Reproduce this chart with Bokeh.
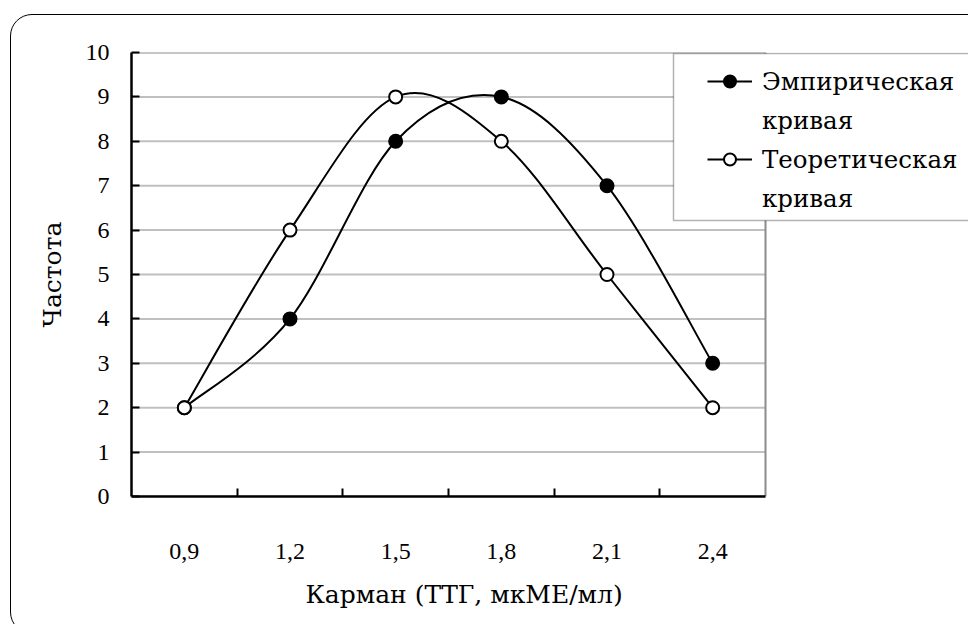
from bokeh.plotting import figure
from bokeh.models import (FixedTicker, BoxAnnotation, Legend, LegendItem, Range1d,
                          InlineStyleSheet, Title)
from bokeh.embed import file_html
from bokeh.resources import INLINE

categories = ["0,9", "1,2", "1,5", "1,8", "2,1", "2,4"]
empirical = [2, 4, 8, 9, 7, 3]
theoretical = [2, 6, 9, 8, 5, 2]
y_ticks = [0, 1, 2, 3, 4, 5, 6, 7, 8, 9, 10]
series_names = ["Эмпирическая\nкривая", "Теоретическая\nкривая"]
x_title = "Карман (ТТГ, мкМЕ/мл)"
y_title = "Частота"

FONT = "Liberation Serif"
FONT_CYR = "DejaVu Serif"

# layout (pixels)
W, H = 968, 624
AREA_L, AREA_R, AREA_T, AREA_B = 131, 765, 52, 497
n_cat = len(categories)
xs = [i + 0.5 for i in range(n_cat)]
x_end = n_cat * (W - AREA_L) / (AREA_R - AREA_L)


def bezier_segments(xv, yv):
    n = len(xv)
    out = dict(x0=[], y0=[], x1=[], y1=[], cx0=[], cy0=[], cx1=[], cy1=[])
    for i in range(n - 1):
        pm = max(i - 1, 0)
        pp = min(i + 2, n - 1)
        out["x0"].append(xv[i]); out["y0"].append(yv[i])
        out["x1"].append(xv[i + 1]); out["y1"].append(yv[i + 1])
        out["cx0"].append(xv[i] + (xv[i + 1] - xv[pm]) / 6)
        out["cy0"].append(yv[i] + (yv[i + 1] - yv[pm]) / 6)
        out["cx1"].append(xv[i + 1] - (xv[pp] - xv[i]) / 6)
        out["cy1"].append(yv[i + 1] - (yv[pp] - yv[i]) / 6)
    return out


p = figure(width=W, height=H, x_range=Range1d(0, x_end), y_range=Range1d(0, y_ticks[-1]),
           output_backend="svg", toolbar_location=None,
           min_border_left=AREA_L, min_border_right=0, min_border_top=AREA_T,
           min_border_bottom=H - AREA_B)
p.background_fill_color = "white"
p.border_fill_color = "white"
p.outline_line_color = None

# outer rounded chart border (CSS, drawn around the canvas content)
p.stylesheets = [InlineStyleSheet(css="""
:host { position: relative; overflow: hidden; }
:host::after { content: ""; position: absolute; left: 10px; top: 14px;
  width: 980px; height: 620px; border: 1.5px solid #000; border-radius: 22px;
  pointer-events: none; box-sizing: border-box; }
""")]

# axes
p.xaxis.bounds = (0, n_cat)
p.xaxis.ticker = FixedTicker(ticks=xs, minor_ticks=list(range(1, n_cat)))
p.xaxis.major_label_overrides = {x: c for x, c in zip(xs, categories)}
p.xaxis.major_tick_line_color = None
p.xaxis.minor_tick_in = 8
p.xaxis.minor_tick_out = 0
p.xaxis.minor_tick_line_color = "black"
p.xaxis.minor_tick_line_width = 2
p.xaxis.axis_line_width = 2.5
p.xaxis.axis_line_color = "black"
p.xaxis.major_label_standoff = 41

p.yaxis.bounds = (0, y_ticks[-1])
p.yaxis.ticker = FixedTicker(ticks=y_ticks)
p.yaxis.major_tick_in = 8
p.yaxis.major_tick_out = 0
p.yaxis.major_tick_line_color = "black"
p.yaxis.major_tick_line_width = 2
p.yaxis.minor_tick_line_color = None
p.yaxis.axis_line_width = 2.5
p.yaxis.axis_line_color = "black"
p.yaxis.major_label_standoff = 22
p.yaxis.axis_label = y_title
p.yaxis.axis_label_standoff = 16

for ax in (p.xaxis[0], p.yaxis[0]):
    ax.major_label_text_font = FONT
    ax.major_label_text_font_size = "24px"
    ax.major_label_text_color = "black"
    ax.axis_label_text_font = FONT_CYR
    ax.axis_label_text_font_size = "25px"
    ax.axis_label_text_font_style = "normal"
    ax.axis_label_text_color = "black"

# x-axis title, placed under the axis and shifted like the original
x_title_model = Title(text=x_title, align="left", offset=174,
                      text_font=FONT_CYR, text_font_size="25px", text_font_style="normal",
                      text_color="black", standoff=32)
p.add_layout(x_title_model, "below")

p.xgrid.visible = False
p.ygrid.visible = False

# horizontal gridlines limited to the plot area, plus plot-area border (top / right)
p.segment(x0=[0] * (len(y_ticks) - 1), x1=[n_cat] * (len(y_ticks) - 1),
          y0=y_ticks[:-1], y1=y_ticks[:-1], line_color="#c0c0c0", line_width=2)
p.segment(x0=[0, n_cat], x1=[n_cat, n_cat], y0=[y_ticks[-1], 0], y1=[y_ticks[-1], y_ticks[-1]],
          line_color="#8c8c8c", line_width=2)

# series
seg_e = bezier_segments(xs, empirical)
seg_t = bezier_segments(xs, theoretical)
r_e_line = p.bezier(line_color="black", line_width=2, **seg_e)
r_e_pts = p.scatter(xs, empirical, marker="circle", size=13, fill_color="black",
                    line_color="black", line_width=2)
r_t_line = p.bezier(line_color="black", line_width=2, **seg_t)
r_t_pts = p.scatter(xs, theoretical, marker="circle", size=13, fill_color="white",
                    line_color="black", line_width=2)

# legend box (white, black border, runs off the right edge)
legend_box = BoxAnnotation(left=673, right=W + 40, top=53, bottom=220,
                           left_units="canvas", right_units="canvas",
                           top_units="canvas", bottom_units="canvas",
                           fill_color="white", fill_alpha=1,
                           line_color="black", line_width=1.5)
p.add_layout(legend_box)

e_lines = series_names[0].split("\n")
t_lines = series_names[1].split("\n")
items = [LegendItem(label=e_lines[0], renderers=[r_e_line, r_e_pts]),
         LegendItem(label=e_lines[1], renderers=[]),
         LegendItem(label=t_lines[0], renderers=[r_t_line, r_t_pts]),
         LegendItem(label=t_lines[1], renderers=[])]
legend = Legend(items=items, location=(576, 279))
legend.border_line_color = None
legend.background_fill_alpha = 0
legend.label_text_font = FONT_CYR
legend.label_text_font_size = "24.5px"
legend.label_text_color = "black"
legend.glyph_width = 45
legend.glyph_height = 30
legend.label_height = 38
legend.label_standoff = 10
legend.padding = 9
legend.spacing = 1
legend.margin = 0
p.add_layout(legend)

open("out.html", "w").write(file_html(p, INLINE))
